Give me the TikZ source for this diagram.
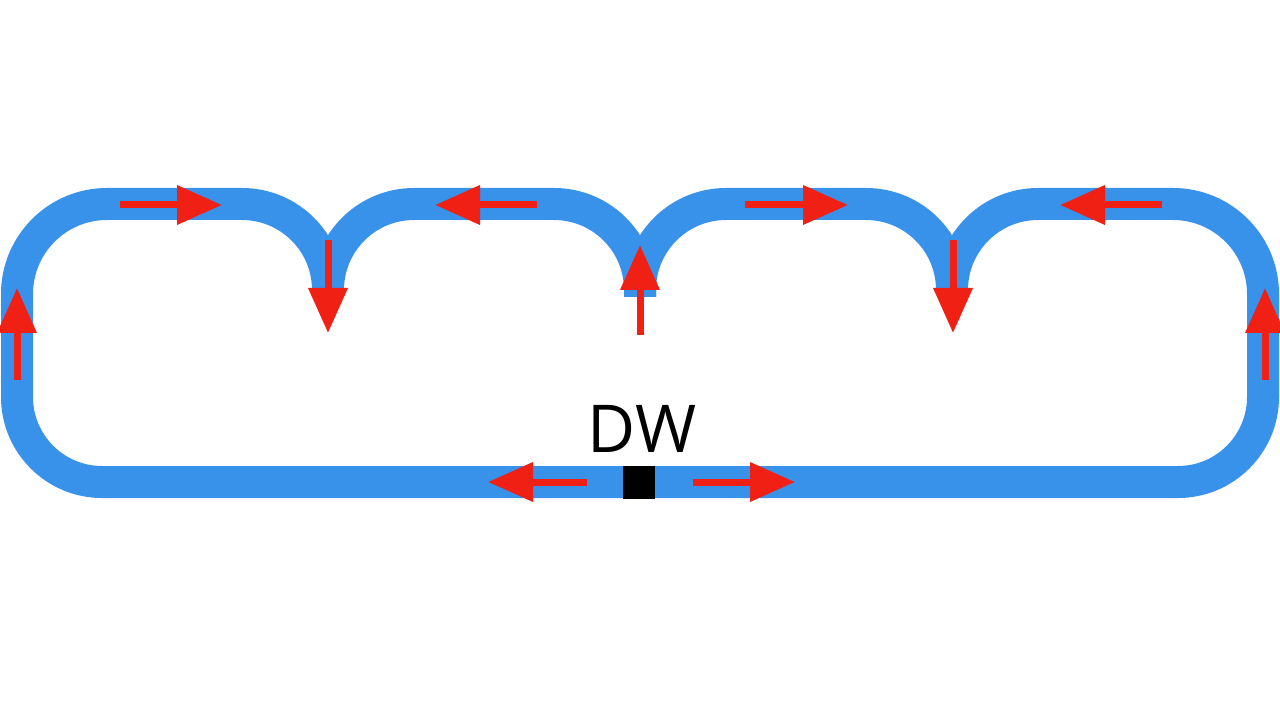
\documentclass[tikz,border=0pt]{standalone}
\usepackage{fontspec}
\setmainfont{Open Sans}
\usetikzlibrary{arrows.meta}
\definecolor{bandblue}{RGB}{56,146,234}
\definecolor{flowred}{RGB}{240,32,20}
\tikzset{
  band/.style={draw=bandblue, line width=32pt, line cap=butt, line join=round},
  flow/.style={draw=flowred, line width=7pt, -{Triangle[length=45pt,width=38pt]}},
}
\begin{document}
\begin{tikzpicture}[x=1pt,y=-1pt]
\useasboundingbox (0,0) rectangle (1280,719);
% blue track
\draw[band] (328,290) .. controls (328,242.5) and (289.5,204) .. (242,204)
  -- (107,204) .. controls (57.3,204) and (17,244.3) .. (17,294)
  -- (17,397) .. controls (17,443.9) and (55.1,482) .. (102,482)
  -- (1178,482) .. controls (1224.9,482) and (1263,443.9) .. (1263,397)
  -- (1263,294) .. controls (1263,244.3) and (1222.7,204) .. (1173,204)
  -- (1038,204) .. controls (990.5,204) and (952,242.5) .. (952,290);
\draw[band] (328,290) .. controls (328,242.5) and (366.5,204) .. (414,204)
  -- (554,204) .. controls (601.5,204) and (640,242.5) .. (640,290) -- (640,297);
\draw[band] (640,297) -- (640,290) .. controls (640,242.5) and (678.5,204) .. (726,204)
  -- (866,204) .. controls (913.5,204) and (952,242.5) .. (952,290);
% arrow end points
\coordinate (t1a) at (120,205); \coordinate (t1b) at (222,205);
\coordinate (t2a) at (537,205); \coordinate (t2b) at (435,205);
\coordinate (t3a) at (745,205); \coordinate (t3b) at (848,205);
\coordinate (t4a) at (1162,205); \coordinate (t4b) at (1060,205);
\coordinate (c1a) at (328,240); \coordinate (c1b) at (328,333);
\coordinate (c2a) at (640,335); \coordinate (c2b) at (640,245);
\coordinate (c3a) at (953,240); \coordinate (c3b) at (953,333);
\coordinate (la) at (17,380); \coordinate (lb) at (17,288);
\coordinate (ra) at (1265,380); \coordinate (rb) at (1265,288);
\coordinate (b1a) at (587,482); \coordinate (b1b) at (488,482);
\coordinate (b2a) at (693,482); \coordinate (b2b) at (795,482);
% red arrows
\draw[flow] (t1a) -- (t1b);
\draw[flow] (t2a) -- (t2b);
\draw[flow] (t3a) -- (t3b);
\draw[flow] (t4a) -- (t4b);
\draw[flow] (c1a) -- (c1b);
\draw[flow] (c2a) -- (c2b);
\draw[flow] (c3a) -- (c3b);
\draw[flow] (la) -- (lb);
\draw[flow] (ra) -- (rb);
\draw[flow] (b1a) -- (b1b);
\draw[flow] (b2a) -- (b2b);
% domain wall
\node[fill=black, minimum width=32pt, minimum height=33pt, inner sep=0pt] (dw) at (639,482) {};
\node[anchor=base, inner sep=0pt, font=\fontsize{66}{70}\selectfont] (dwlabel) at (642,452) {DW};
\end{tikzpicture}
\end{document}
